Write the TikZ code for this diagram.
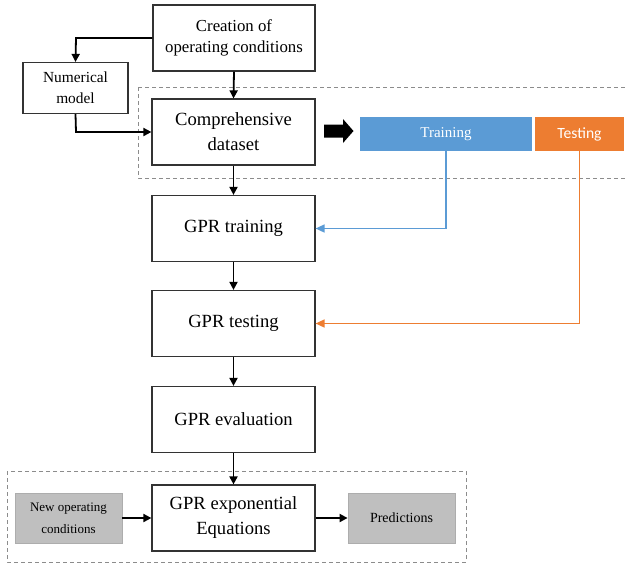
\documentclass[tikz,border=0pt]{standalone}
\usepackage{fontspec}
\setmainfont{Liberation Serif}
\newfontfamily\calib{Carlito}
\usetikzlibrary{arrows.meta}
\definecolor{trainblue}{HTML}{5B9BD5}
\definecolor{testorange}{HTML}{ED7D31}
\definecolor{boxedge}{HTML}{333333}
\begin{document}
\begin{tikzpicture}[x=1pt,y=-1pt,
  mainbox/.style={draw=boxedge, line width=1.2pt, minimum width=163pt, minimum height=66pt, inner sep=0pt, align=center, font=\fontsize{18.6}{25}\selectfont},
  smallbox/.style={draw=boxedge, line width=1.2pt, inner sep=0pt, align=center},
  graybox/.style={draw=black!32, fill=black!25, line width=0.8pt, minimum width=107pt, minimum height=50pt, inner sep=0pt, align=center},
  flow/.style={line width=1.8pt, -{Triangle[length=8pt,width=8pt]}},
  dashbox/.style={draw=black!45, dashed, dash pattern=on 4pt off 3pt, line width=1pt}
]
\useasboundingbox (0,0) rectangle (627,563);

% dashed groups
\draw[dashbox] (138,87) -- (626,87);
\draw[dashbox] (138,87) -- (138,178) -- (626,178);
\draw[dashbox] (7,471) rectangle (466,562);

% nodes
\node[smallbox, minimum width=162pt, minimum height=66pt, font=\fontsize{16.8}{21}\selectfont] (create) at (234,38) {Creation of\\operating conditions};
\node[smallbox, minimum width=105pt, minimum height=51pt, font=\fontsize{15.4}{21}\selectfont] (num) at (75.5,88) {Numerical\\model};
\node[mainbox] (comp) at (233.5,132) {Comprehensive\\dataset};
\node[mainbox] (gtrain) at (233.5,228.5) {GPR training};
\node[mainbox] (gtest) at (233.5,323.5) {GPR testing};
\node[mainbox] (geval) at (233.5,419.5) {GPR evaluation};
\node[mainbox] (gexp) at (233.5,518) {GPR exponential\\Equations};

\node[fill=trainblue, text=white, minimum width=172pt, minimum height=34pt, inner sep=0pt, font=\fontsize{15}{18}\selectfont] (train) at (446,134) {Training};
\node[fill=testorange, text=white, minimum width=89pt, minimum height=34pt, inner sep=0pt, font=\calib\fontsize{15.6}{18}\selectfont] (test) at (579.5,134) {Testing};

\node[graybox, font=\fontsize{13}{22}\selectfont] (newop) at (68.5,518) {New operating\\conditions};
\node[graybox, font=\fontsize{14}{18}\selectfont] (pred) at (401.5,518) {Predictions};

% big arrow
\fill[black] (324,124.5) -- (343,124.5) -- (343,119) -- (353.5,131) -- (343,143) -- (343,137.5) -- (324,137.5) -- cycle;

% connectors
\coordinate (turn1) at (76,38);
\coordinate (turn2) at (76,132);
\draw[flow] (create.west) -- (turn1) -- (num.north);
\draw[flow] (num.south) -- (turn2) -- (comp.west);
\draw[flow] (create.south) -- (comp.north);
\draw[flow] (comp.south) -- (gtrain.north);
\draw[flow] (gtrain.south) -- (gtest.north);
\draw[flow] (gtest.south) -- (geval.north);
\draw[flow] (geval.south) -- (gexp.north);
\draw[flow] (newop.east) -- (gexp.west);
\draw[flow] (gexp.east) -- (pred.west);

\draw[trainblue, line width=1.6pt, -{Triangle[length=9pt,width=8pt]}] (train.south) |- (gtrain.east);
\draw[testorange, line width=1.6pt, -{Triangle[length=9pt,width=8pt]}] (test.south) |- (gtest.east);
\end{tikzpicture}
\end{document}
